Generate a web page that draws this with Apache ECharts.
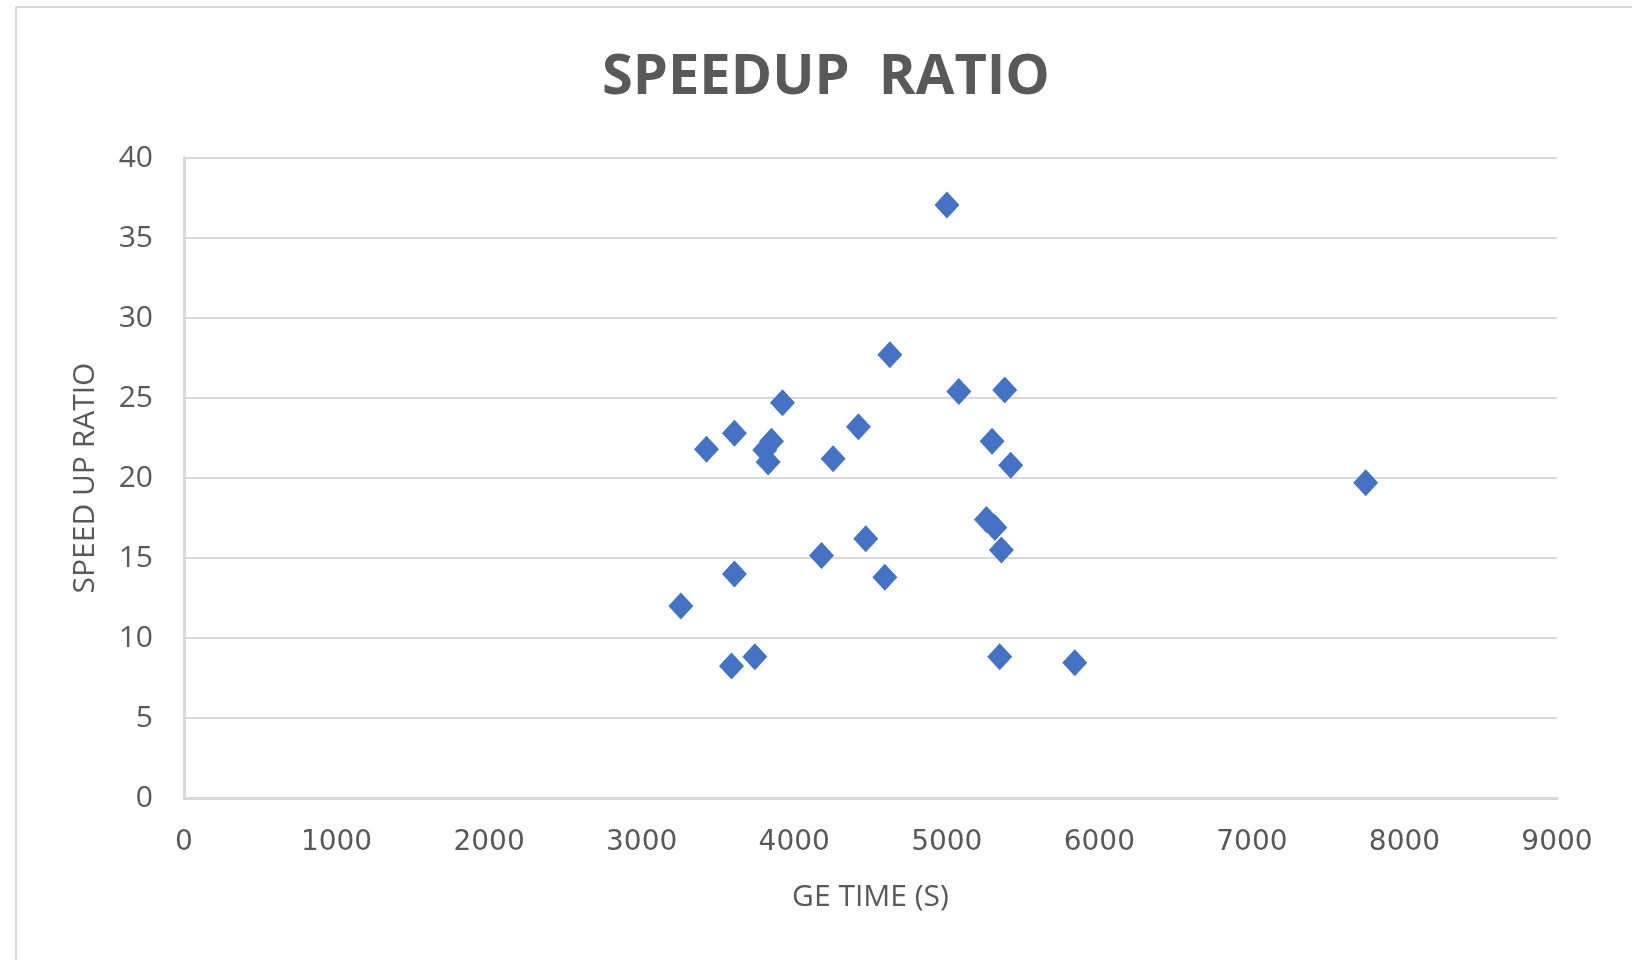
<!DOCTYPE html>
<html>
<head>
<meta charset="utf-8">
<script src="https://cdn.jsdelivr.net/npm/echarts@6/dist/echarts.min.js"></script>
<style>
html,body{margin:0;padding:0;background:#fff;}
#chart{width:1632px;height:960px;}
</style>
</head>
<body>
<div id="chart"></div>
<script>
// GE time (s)
const geTime = [5001, 4627, 3923, 5079, 5380, 3608, 3425, 3851, 3807, 3829, 4421, 4255, 5297, 5419,
                5260, 5315, 5358, 4469, 4179, 4594, 3608, 3257, 3589, 3742, 5347, 5839, 7746];
// Speed up ratio
const speedup = [37.06, 27.7, 24.7, 25.4, 25.5, 22.8, 21.8, 22.3, 21.75, 21.0, 23.2, 21.2, 22.3, 20.8,
                 17.4, 16.9, 15.5, 16.2, 15.15, 13.8, 14.0, 12.0, 8.25, 8.83, 8.83, 8.46, 19.7];
const xTicks = [0, 1000, 2000, 3000, 4000, 5000, 6000, 7000, 8000, 9000];
const yTicks = [0, 5, 10, 15, 20, 25, 30, 35, 40];

const points = geTime.map((x, i) => [x, speedup[i]]);

const chart = echarts.init(document.getElementById('chart'), null, {renderer: 'canvas'});
chart.setOption({
  backgroundColor: '#ffffff',
  animation: false,
  graphic: [{
    type: 'rect',
    shape: {x: 16, y: 7, width: 1700, height: 1000},
    style: {fill: 'none', stroke: '#d9d9d9', lineWidth: 2},
    silent: true, z: -1
  }],
  title: {
    text: 'SPEEDUP  RATIO',
    left: 602,
    top: 50,
    padding: 0,
    textStyle: {fontFamily: 'Open Sans', fontWeight: 'bold', fontSize: 56, color: '#595959'}
  },
  grid: {left: 184, right: 75, top: 158, bottom: 162},
  xAxis: {
    type: 'value',
    min: xTicks[0], max: xTicks[xTicks.length - 1], interval: 1000,
    name: 'GE TIME (S)',
    nameLocation: 'middle',
    nameGap: 84,
    nameTextStyle: {fontFamily: 'Open Sans', fontSize: 30, color: '#595959'},
    axisLine: {show: true, lineStyle: {color: '#d9d9d9', width: 3}},
    axisTick: {show: false},
    splitLine: {show: false},
    axisLabel: {margin: 31, fontFamily: 'DejaVu Sans', fontSize: 28, color: '#595959',
                formatter: v => String(v)}
  },
  yAxis: {
    type: 'value',
    min: yTicks[0], max: yTicks[yTicks.length - 1], interval: 5,
    name: 'SPEED UP RATIO',
    nameLocation: 'middle',
    nameGap: 84,
    nameTextStyle: {fontFamily: 'Open Sans', fontSize: 30, color: '#595959'},
    axisLine: {show: true, lineStyle: {color: '#d9d9d9', width: 3}},
    axisTick: {show: false},
    splitLine: {show: true, lineStyle: {color: '#d9d9d9', width: 2}},
    axisLabel: {margin: 31, fontFamily: 'Open Sans', fontSize: 30, color: '#595959'}
  },
  series: [{
    type: 'scatter',
    data: points,
    symbol: 'diamond',
    symbolSize: [25, 27],
    itemStyle: {color: '#4472C4', opacity: 1}
  }]
});
</script>
</body>
</html>
